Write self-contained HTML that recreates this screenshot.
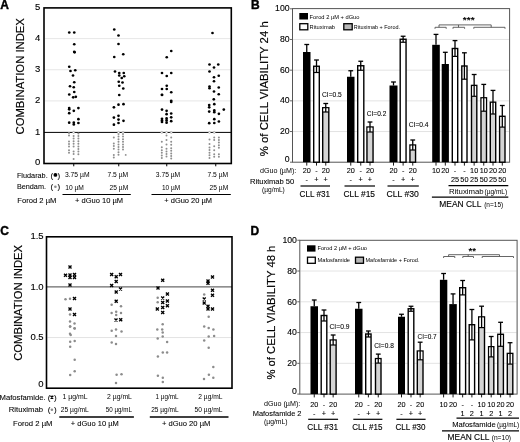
<!DOCTYPE html>
<html><head><meta charset="utf-8"><style>
html,body{margin:0;padding:0;background:#fff;width:520px;height:442px;overflow:hidden}
svg{display:block;font-family:"Liberation Sans", sans-serif;filter:blur(0.35px)}
text{stroke:#000}
</style></head><body>
<svg width="520" height="442" viewBox="0 0 520 442">
<rect width="520" height="442" fill="#fff"/>
<text x="0.30" y="8.80" font-size="12" font-weight="bold" fill="#000" stroke-width="0.4">A</text>
<text x="251.00" y="8.80" font-size="12" font-weight="bold" fill="#000" stroke-width="0.4">B</text>
<text x="0.30" y="234.90" font-size="12" font-weight="bold" fill="#000" stroke-width="0.4">C</text>
<text x="250.60" y="234.80" font-size="12" font-weight="bold" fill="#000" stroke-width="0.4">D</text>
<line x1="45.00" y1="100.90" x2="230.50" y2="100.90" stroke="#e0e0e0" stroke-width="0.8"/>
<line x1="45.00" y1="69.75" x2="230.50" y2="69.75" stroke="#e0e0e0" stroke-width="0.8"/>
<line x1="45.00" y1="38.60" x2="230.50" y2="38.60" stroke="#e0e0e0" stroke-width="0.8"/>
<line x1="44.00" y1="132.40" x2="231.30" y2="132.40" stroke="#000" stroke-width="1.0"/>
<rect x="44.00" y="7.90" width="187.30" height="155.60" fill="none" stroke="#000" stroke-width="1.6"/>
<line x1="73.75" y1="163.50" x2="73.75" y2="166.30" stroke="#000" stroke-width="1"/>
<line x1="118.75" y1="163.50" x2="118.75" y2="166.30" stroke="#000" stroke-width="1"/>
<line x1="166.75" y1="163.50" x2="166.75" y2="166.30" stroke="#000" stroke-width="1"/>
<line x1="215.75" y1="163.50" x2="215.75" y2="166.30" stroke="#000" stroke-width="1"/>
<text x="40.30" y="165.20" font-size="9.5" fill="#000" stroke-width="0.12" text-anchor="end">0</text>
<text x="40.30" y="134.55" font-size="9.5" fill="#000" stroke-width="0.12" text-anchor="end">1</text>
<text x="40.30" y="103.40" font-size="9.5" fill="#000" stroke-width="0.12" text-anchor="end">2</text>
<text x="40.30" y="72.25" font-size="9.5" fill="#000" stroke-width="0.12" text-anchor="end">3</text>
<text x="40.30" y="41.10" font-size="9.5" fill="#000" stroke-width="0.12" text-anchor="end">4</text>
<text x="40.30" y="9.95" font-size="9.5" fill="#000" stroke-width="0.12" text-anchor="end">5</text>
<text transform="translate(24.10,134.50) rotate(-90)" x="0" y="0" font-size="11.2" fill="#000" stroke-width="0.15" textLength="116.40" lengthAdjust="spacingAndGlyphs">COMBINATION INDEX</text>
<circle cx="69.25" cy="32.50" r="1.35" fill="#000"/>
<circle cx="74.25" cy="32.50" r="1.35" fill="#000"/>
<circle cx="74.25" cy="44.25" r="1.35" fill="#000"/>
<circle cx="74.25" cy="51.75" r="1.35" fill="#000"/>
<circle cx="74.60" cy="52.30" r="1.35" fill="#000"/>
<circle cx="69.25" cy="66.75" r="1.35" fill="#000"/>
<circle cx="70.50" cy="71.00" r="1.35" fill="#000"/>
<circle cx="75.25" cy="70.25" r="1.35" fill="#000"/>
<circle cx="73.00" cy="75.50" r="1.35" fill="#000"/>
<circle cx="74.25" cy="82.25" r="1.35" fill="#000"/>
<circle cx="70.00" cy="86.25" r="1.35" fill="#000"/>
<circle cx="73.75" cy="87.25" r="1.35" fill="#000"/>
<circle cx="74.25" cy="92.00" r="1.35" fill="#000"/>
<circle cx="69.25" cy="94.50" r="1.35" fill="#000"/>
<circle cx="73.20" cy="97.30" r="1.35" fill="#000"/>
<circle cx="75.80" cy="96.80" r="1.35" fill="#000"/>
<circle cx="69.20" cy="108.10" r="1.35" fill="#000"/>
<circle cx="69.20" cy="109.30" r="1.35" fill="#000"/>
<circle cx="78.40" cy="108.10" r="1.35" fill="#000"/>
<circle cx="73.80" cy="110.80" r="1.35" fill="#000"/>
<circle cx="69.20" cy="113.20" r="1.35" fill="#000"/>
<circle cx="78.40" cy="119.20" r="1.35" fill="#000"/>
<circle cx="69.20" cy="122.70" r="1.35" fill="#000"/>
<circle cx="73.80" cy="122.70" r="1.35" fill="#000"/>
<circle cx="73.80" cy="124.50" r="1.35" fill="#000"/>
<circle cx="78.40" cy="123.00" r="1.35" fill="#000"/>
<circle cx="114.25" cy="29.50" r="1.35" fill="#000"/>
<circle cx="118.50" cy="35.50" r="1.35" fill="#000"/>
<circle cx="118.50" cy="44.00" r="1.35" fill="#000"/>
<circle cx="114.25" cy="57.00" r="1.35" fill="#000"/>
<circle cx="123.25" cy="54.25" r="1.35" fill="#000"/>
<circle cx="115.00" cy="71.50" r="1.35" fill="#000"/>
<circle cx="119.25" cy="73.00" r="1.35" fill="#000"/>
<circle cx="123.75" cy="73.00" r="1.35" fill="#000"/>
<circle cx="119.25" cy="75.50" r="1.35" fill="#000"/>
<circle cx="121.75" cy="78.00" r="1.35" fill="#000"/>
<circle cx="124.25" cy="76.25" r="1.35" fill="#000"/>
<circle cx="118.75" cy="81.75" r="1.35" fill="#000"/>
<circle cx="122.50" cy="82.50" r="1.35" fill="#000"/>
<circle cx="119.25" cy="85.75" r="1.35" fill="#000"/>
<circle cx="123.25" cy="88.50" r="1.35" fill="#000"/>
<circle cx="119.25" cy="95.00" r="1.35" fill="#000"/>
<circle cx="113.90" cy="107.30" r="1.35" fill="#000"/>
<circle cx="118.50" cy="104.70" r="1.35" fill="#000"/>
<circle cx="123.50" cy="104.20" r="1.35" fill="#000"/>
<circle cx="113.90" cy="117.60" r="1.35" fill="#000"/>
<circle cx="118.50" cy="115.80" r="1.35" fill="#000"/>
<circle cx="118.50" cy="119.60" r="1.35" fill="#000"/>
<circle cx="123.50" cy="120.80" r="1.35" fill="#000"/>
<circle cx="113.90" cy="124.70" r="1.35" fill="#000"/>
<circle cx="118.50" cy="123.00" r="1.35" fill="#000"/>
<circle cx="171.25" cy="51.00" r="1.35" fill="#000"/>
<circle cx="166.75" cy="57.25" r="1.35" fill="#000"/>
<circle cx="162.00" cy="73.00" r="1.35" fill="#000"/>
<circle cx="171.25" cy="73.00" r="1.35" fill="#000"/>
<circle cx="166.75" cy="76.00" r="1.35" fill="#000"/>
<circle cx="166.75" cy="85.75" r="1.35" fill="#000"/>
<circle cx="162.00" cy="89.00" r="1.35" fill="#000"/>
<circle cx="166.75" cy="89.00" r="1.35" fill="#000"/>
<circle cx="171.25" cy="92.25" r="1.35" fill="#000"/>
<circle cx="162.00" cy="94.75" r="1.35" fill="#000"/>
<circle cx="162.00" cy="95.00" r="1.35" fill="#000"/>
<circle cx="171.20" cy="100.80" r="1.35" fill="#000"/>
<circle cx="171.20" cy="101.90" r="1.35" fill="#000"/>
<circle cx="162.00" cy="109.60" r="1.35" fill="#000"/>
<circle cx="166.60" cy="110.80" r="1.35" fill="#000"/>
<circle cx="171.20" cy="113.50" r="1.35" fill="#000"/>
<circle cx="166.60" cy="114.20" r="1.35" fill="#000"/>
<circle cx="162.00" cy="118.80" r="1.35" fill="#000"/>
<circle cx="162.00" cy="120.40" r="1.35" fill="#000"/>
<circle cx="162.00" cy="121.90" r="1.35" fill="#000"/>
<circle cx="166.60" cy="118.40" r="1.35" fill="#000"/>
<circle cx="166.60" cy="120.40" r="1.35" fill="#000"/>
<circle cx="166.60" cy="122.70" r="1.35" fill="#000"/>
<circle cx="171.20" cy="117.30" r="1.35" fill="#000"/>
<circle cx="171.20" cy="121.20" r="1.35" fill="#000"/>
<circle cx="212.50" cy="33.00" r="1.35" fill="#000"/>
<circle cx="209.50" cy="64.50" r="1.35" fill="#000"/>
<circle cx="218.25" cy="64.50" r="1.35" fill="#000"/>
<circle cx="214.00" cy="67.50" r="1.35" fill="#000"/>
<circle cx="209.50" cy="71.50" r="1.35" fill="#000"/>
<circle cx="218.75" cy="75.75" r="1.35" fill="#000"/>
<circle cx="214.00" cy="77.25" r="1.35" fill="#000"/>
<circle cx="214.00" cy="81.25" r="1.35" fill="#000"/>
<circle cx="209.50" cy="86.50" r="1.35" fill="#000"/>
<circle cx="209.50" cy="88.25" r="1.35" fill="#000"/>
<circle cx="218.75" cy="87.50" r="1.35" fill="#000"/>
<circle cx="214.00" cy="91.50" r="1.35" fill="#000"/>
<circle cx="218.75" cy="94.25" r="1.35" fill="#000"/>
<circle cx="213.80" cy="99.30" r="1.35" fill="#000"/>
<circle cx="209.20" cy="105.00" r="1.35" fill="#000"/>
<circle cx="209.20" cy="107.30" r="1.35" fill="#000"/>
<circle cx="214.30" cy="104.20" r="1.35" fill="#000"/>
<circle cx="209.20" cy="111.60" r="1.35" fill="#000"/>
<circle cx="214.30" cy="110.40" r="1.35" fill="#000"/>
<circle cx="214.30" cy="112.20" r="1.35" fill="#000"/>
<circle cx="218.90" cy="113.80" r="1.35" fill="#000"/>
<circle cx="223.80" cy="109.60" r="1.35" fill="#000"/>
<circle cx="214.30" cy="119.20" r="1.35" fill="#000"/>
<circle cx="218.90" cy="121.50" r="1.35" fill="#000"/>
<circle cx="209.20" cy="123.20" r="1.35" fill="#000"/>
<circle cx="214.30" cy="123.00" r="1.35" fill="#000"/>
<circle cx="69.00" cy="133.00" r="1.0" fill="#8e8e8e"/>
<circle cx="69.00" cy="135.60" r="1.0" fill="#8e8e8e"/>
<circle cx="69.00" cy="141.40" r="1.0" fill="#8e8e8e"/>
<circle cx="69.00" cy="144.00" r="1.0" fill="#8e8e8e"/>
<circle cx="69.00" cy="146.60" r="1.0" fill="#8e8e8e"/>
<circle cx="69.00" cy="150.20" r="1.0" fill="#8e8e8e"/>
<circle cx="69.00" cy="152.80" r="1.0" fill="#8e8e8e"/>
<circle cx="73.60" cy="136.00" r="1.0" fill="#8e8e8e"/>
<circle cx="73.60" cy="138.60" r="1.0" fill="#8e8e8e"/>
<circle cx="73.60" cy="141.20" r="1.0" fill="#8e8e8e"/>
<circle cx="73.60" cy="143.80" r="1.0" fill="#8e8e8e"/>
<circle cx="73.60" cy="146.40" r="1.0" fill="#8e8e8e"/>
<circle cx="73.60" cy="151.50" r="1.0" fill="#8e8e8e"/>
<circle cx="73.60" cy="154.10" r="1.0" fill="#8e8e8e"/>
<circle cx="73.60" cy="159.00" r="1.0" fill="#8e8e8e"/>
<circle cx="78.40" cy="133.40" r="1.0" fill="#8e8e8e"/>
<circle cx="78.40" cy="136.00" r="1.0" fill="#8e8e8e"/>
<circle cx="78.40" cy="138.60" r="1.0" fill="#8e8e8e"/>
<circle cx="78.40" cy="141.20" r="1.0" fill="#8e8e8e"/>
<circle cx="78.40" cy="143.80" r="1.0" fill="#8e8e8e"/>
<circle cx="78.40" cy="146.40" r="1.0" fill="#8e8e8e"/>
<circle cx="78.40" cy="149.00" r="1.0" fill="#8e8e8e"/>
<circle cx="78.40" cy="151.60" r="1.0" fill="#8e8e8e"/>
<circle cx="78.40" cy="154.20" r="1.0" fill="#8e8e8e"/>
<circle cx="113.80" cy="137.40" r="1.0" fill="#8e8e8e"/>
<circle cx="113.80" cy="143.50" r="1.0" fill="#8e8e8e"/>
<circle cx="113.80" cy="146.10" r="1.0" fill="#8e8e8e"/>
<circle cx="113.80" cy="148.70" r="1.0" fill="#8e8e8e"/>
<circle cx="113.80" cy="154.90" r="1.0" fill="#8e8e8e"/>
<circle cx="113.80" cy="157.50" r="1.0" fill="#8e8e8e"/>
<circle cx="118.50" cy="134.00" r="1.0" fill="#8e8e8e"/>
<circle cx="118.50" cy="136.60" r="1.0" fill="#8e8e8e"/>
<circle cx="118.50" cy="139.20" r="1.0" fill="#8e8e8e"/>
<circle cx="118.50" cy="141.80" r="1.0" fill="#8e8e8e"/>
<circle cx="118.50" cy="144.40" r="1.0" fill="#8e8e8e"/>
<circle cx="118.50" cy="147.00" r="1.0" fill="#8e8e8e"/>
<circle cx="118.50" cy="149.60" r="1.0" fill="#8e8e8e"/>
<circle cx="118.50" cy="152.20" r="1.0" fill="#8e8e8e"/>
<circle cx="118.50" cy="154.80" r="1.0" fill="#8e8e8e"/>
<circle cx="123.00" cy="134.00" r="1.0" fill="#8e8e8e"/>
<circle cx="123.00" cy="136.60" r="1.0" fill="#8e8e8e"/>
<circle cx="123.00" cy="139.20" r="1.0" fill="#8e8e8e"/>
<circle cx="123.00" cy="141.80" r="1.0" fill="#8e8e8e"/>
<circle cx="123.00" cy="144.40" r="1.0" fill="#8e8e8e"/>
<circle cx="123.00" cy="147.00" r="1.0" fill="#8e8e8e"/>
<circle cx="123.00" cy="149.60" r="1.0" fill="#8e8e8e"/>
<circle cx="125.70" cy="154.90" r="0.95" fill="#8e8e8e"/>
<circle cx="161.80" cy="141.80" r="1.0" fill="#8e8e8e"/>
<circle cx="161.80" cy="147.20" r="1.0" fill="#8e8e8e"/>
<circle cx="161.80" cy="150.20" r="1.0" fill="#8e8e8e"/>
<circle cx="161.80" cy="152.80" r="1.0" fill="#8e8e8e"/>
<circle cx="161.80" cy="155.40" r="1.0" fill="#8e8e8e"/>
<circle cx="161.80" cy="158.00" r="1.0" fill="#8e8e8e"/>
<circle cx="166.50" cy="135.40" r="1.0" fill="#8e8e8e"/>
<circle cx="166.50" cy="140.10" r="1.0" fill="#8e8e8e"/>
<circle cx="166.50" cy="144.50" r="1.0" fill="#8e8e8e"/>
<circle cx="166.50" cy="148.80" r="1.0" fill="#8e8e8e"/>
<circle cx="166.50" cy="151.40" r="1.0" fill="#8e8e8e"/>
<circle cx="166.50" cy="154.00" r="1.0" fill="#8e8e8e"/>
<circle cx="166.50" cy="156.60" r="1.0" fill="#8e8e8e"/>
<circle cx="171.20" cy="137.40" r="1.0" fill="#8e8e8e"/>
<circle cx="171.20" cy="141.80" r="1.0" fill="#8e8e8e"/>
<circle cx="171.20" cy="144.80" r="1.0" fill="#8e8e8e"/>
<circle cx="171.20" cy="148.20" r="1.0" fill="#8e8e8e"/>
<circle cx="171.20" cy="150.80" r="1.0" fill="#8e8e8e"/>
<circle cx="171.20" cy="153.40" r="1.0" fill="#8e8e8e"/>
<circle cx="171.20" cy="156.00" r="1.0" fill="#8e8e8e"/>
<circle cx="171.20" cy="158.60" r="1.0" fill="#8e8e8e"/>
<circle cx="209.50" cy="139.40" r="1.0" fill="#8e8e8e"/>
<circle cx="209.50" cy="144.10" r="1.0" fill="#8e8e8e"/>
<circle cx="209.50" cy="147.50" r="1.0" fill="#8e8e8e"/>
<circle cx="209.50" cy="150.10" r="1.0" fill="#8e8e8e"/>
<circle cx="209.50" cy="152.70" r="1.0" fill="#8e8e8e"/>
<circle cx="209.50" cy="155.30" r="1.0" fill="#8e8e8e"/>
<circle cx="209.50" cy="157.90" r="1.0" fill="#8e8e8e"/>
<circle cx="214.20" cy="137.40" r="1.0" fill="#8e8e8e"/>
<circle cx="214.20" cy="140.00" r="1.0" fill="#8e8e8e"/>
<circle cx="214.20" cy="146.20" r="1.0" fill="#8e8e8e"/>
<circle cx="214.20" cy="150.20" r="1.0" fill="#8e8e8e"/>
<circle cx="214.20" cy="154.20" r="1.0" fill="#8e8e8e"/>
<circle cx="214.20" cy="156.80" r="1.0" fill="#8e8e8e"/>
<circle cx="218.90" cy="137.40" r="1.0" fill="#8e8e8e"/>
<circle cx="218.90" cy="140.00" r="1.0" fill="#8e8e8e"/>
<circle cx="218.90" cy="142.60" r="1.0" fill="#8e8e8e"/>
<circle cx="218.90" cy="145.20" r="1.0" fill="#8e8e8e"/>
<circle cx="218.90" cy="147.80" r="1.0" fill="#8e8e8e"/>
<circle cx="218.90" cy="154.20" r="1.0" fill="#8e8e8e"/>
<circle cx="218.90" cy="156.80" r="1.0" fill="#8e8e8e"/>
<circle cx="73.6" cy="132.4" r="1.0" fill="#fff" stroke="#999" stroke-width="0.6"/>
<circle cx="118.5" cy="132.4" r="1.0" fill="#fff" stroke="#999" stroke-width="0.6"/>
<circle cx="123.0" cy="132.4" r="1.0" fill="#fff" stroke="#999" stroke-width="0.6"/>
<circle cx="161.8" cy="132.4" r="1.0" fill="#fff" stroke="#999" stroke-width="0.6"/>
<circle cx="166.5" cy="132.4" r="1.0" fill="#fff" stroke="#999" stroke-width="0.6"/>
<circle cx="171.2" cy="132.4" r="1.0" fill="#fff" stroke="#999" stroke-width="0.6"/>
<circle cx="209.5" cy="132.4" r="1.0" fill="#fff" stroke="#999" stroke-width="0.6"/>
<circle cx="214.2" cy="132.4" r="1.0" fill="#fff" stroke="#999" stroke-width="0.6"/>
<text x="16.90" y="177.50" font-size="8" font-weight="normal" fill="#000" stroke-width="0.08" textLength="30.80" lengthAdjust="spacingAndGlyphs">Fludarab.</text>
<text x="50.60" y="177.50" font-size="8" font-weight="normal" fill="#000" stroke-width="0.08">(</text>
<circle cx="55.40" cy="174.90" r="1.9" fill="#000"/>
<text x="57.60" y="177.50" font-size="8" font-weight="normal" fill="#000" stroke-width="0.08">)</text>
<text x="16.90" y="189.30" font-size="8" font-weight="normal" fill="#000" stroke-width="0.08" textLength="29.10" lengthAdjust="spacingAndGlyphs">Bendam.</text>
<text x="50.60" y="189.30" font-size="8" font-weight="normal" fill="#000" stroke-width="0.08">(</text>
<circle cx="55.40" cy="186.70" r="1.3" fill="#8c8c8c"/>
<text x="57.60" y="189.30" font-size="8" font-weight="normal" fill="#000" stroke-width="0.08">)</text>
<text x="17.30" y="202.80" font-size="8" font-weight="normal" fill="#000" stroke-width="0.08" textLength="39.10" lengthAdjust="spacingAndGlyphs">Forod 2 µM</text>
<text x="65.00" y="177.00" font-size="6.8" font-weight="normal" fill="#000" stroke-width="0.0" textLength="24.50" lengthAdjust="spacingAndGlyphs">3.75 µM</text>
<text x="65.20" y="189.70" font-size="6.8" font-weight="normal" fill="#000" stroke-width="0.0" textLength="18.70" lengthAdjust="spacingAndGlyphs">10 µM</text>
<text x="107.50" y="177.00" font-size="6.8" font-weight="normal" fill="#000" stroke-width="0.0" textLength="20.70" lengthAdjust="spacingAndGlyphs">7.5 µM</text>
<text x="109.50" y="189.70" font-size="6.8" font-weight="normal" fill="#000" stroke-width="0.0" textLength="18.70" lengthAdjust="spacingAndGlyphs">25 µM</text>
<text x="155.80" y="177.00" font-size="6.8" font-weight="normal" fill="#000" stroke-width="0.0" textLength="24.40" lengthAdjust="spacingAndGlyphs">3.75 µM</text>
<text x="162.00" y="189.70" font-size="6.8" font-weight="normal" fill="#000" stroke-width="0.0" textLength="18.20" lengthAdjust="spacingAndGlyphs">10 µM</text>
<text x="207.50" y="177.00" font-size="6.8" font-weight="normal" fill="#000" stroke-width="0.0" textLength="20.70" lengthAdjust="spacingAndGlyphs">7.5 µM</text>
<text x="209.50" y="189.70" font-size="6.8" font-weight="normal" fill="#000" stroke-width="0.0" textLength="18.70" lengthAdjust="spacingAndGlyphs">25 µM</text>
<line x1="62.50" y1="194.50" x2="130.80" y2="194.50" stroke="#000" stroke-width="1.2"/>
<line x1="151.50" y1="194.50" x2="230.80" y2="194.50" stroke="#000" stroke-width="1.2"/>
<text x="75.00" y="203.00" font-size="8" font-weight="normal" fill="#000" stroke-width="0.08" textLength="48.00" lengthAdjust="spacingAndGlyphs">+ dGuo 10 µM</text>
<text x="164.30" y="203.00" font-size="8" font-weight="normal" fill="#000" stroke-width="0.08" textLength="47.70" lengthAdjust="spacingAndGlyphs">+ dGuo 20 µM</text>
<line x1="293.00" y1="131.52" x2="509.00" y2="131.52" stroke="#e0e0e0" stroke-width="0.9"/>
<line x1="293.00" y1="100.84" x2="509.00" y2="100.84" stroke="#e0e0e0" stroke-width="0.9"/>
<line x1="293.00" y1="70.16" x2="509.00" y2="70.16" stroke="#e0e0e0" stroke-width="0.9"/>
<line x1="293.00" y1="39.48" x2="509.00" y2="39.48" stroke="#e0e0e0" stroke-width="0.9"/>
<rect x="292.50" y="8.60" width="217.10" height="153.60" fill="none" stroke="#555" stroke-width="1"/>
<text x="289.60" y="11.30" font-size="8.7" fill="#000" stroke-width="0.12" text-anchor="end">100</text>
<line x1="290.00" y1="8.80" x2="292.50" y2="8.80" stroke="#555" stroke-width="0.9"/>
<text x="289.60" y="41.98" font-size="8.7" fill="#000" stroke-width="0.12" text-anchor="end">80</text>
<line x1="290.00" y1="39.48" x2="292.50" y2="39.48" stroke="#555" stroke-width="0.9"/>
<text x="289.60" y="72.66" font-size="8.7" fill="#000" stroke-width="0.12" text-anchor="end">60</text>
<line x1="290.00" y1="70.16" x2="292.50" y2="70.16" stroke="#555" stroke-width="0.9"/>
<text x="289.60" y="103.34" font-size="8.7" fill="#000" stroke-width="0.12" text-anchor="end">40</text>
<line x1="290.00" y1="100.84" x2="292.50" y2="100.84" stroke="#555" stroke-width="0.9"/>
<text x="289.60" y="134.02" font-size="8.7" fill="#000" stroke-width="0.12" text-anchor="end">20</text>
<line x1="290.00" y1="131.52" x2="292.50" y2="131.52" stroke="#555" stroke-width="0.9"/>
<text x="289.60" y="162.30" font-size="8.7" fill="#000" stroke-width="0.12" text-anchor="end">0</text>
<line x1="290.00" y1="162.20" x2="292.50" y2="162.20" stroke="#555" stroke-width="0.9"/>
<text transform="translate(268.00,156.20) rotate(-90)" x="0" y="0" font-size="10.3" fill="#000" stroke-width="0.15" textLength="134.90" lengthAdjust="spacingAndGlyphs">% of CELL VIABILITY 24 h</text>
<rect x="303.00" y="52.00" width="7.50" height="110.20" fill="#000" stroke="none" stroke-width="1"/>
<line x1="306.75" y1="44.50" x2="306.75" y2="52.00" stroke="#000" stroke-width="1.3"/>
<line x1="304.35" y1="44.50" x2="309.15" y2="44.50" stroke="#000" stroke-width="1.3"/>
<rect x="313.70" y="66.25" width="5.60" height="95.95" fill="#fff" stroke="#000" stroke-width="1.4"/>
<line x1="316.50" y1="60.00" x2="316.50" y2="72.50" stroke="#000" stroke-width="1.3"/>
<line x1="314.10" y1="60.00" x2="318.90" y2="60.00" stroke="#000" stroke-width="1.3"/>
<line x1="313.70" y1="72.50" x2="319.30" y2="72.50" stroke="#000" stroke-width="1.2"/>
<rect x="322.70" y="107.75" width="6.10" height="54.45" fill="#d4d4d4" stroke="#000" stroke-width="1.4"/>
<rect x="323.40" y="108.45" width="4.70" height="3.55" fill="#fff" stroke="none" stroke-width="1"/>
<line x1="325.75" y1="103.50" x2="325.75" y2="112.00" stroke="#000" stroke-width="1.3"/>
<line x1="323.35" y1="103.50" x2="328.15" y2="103.50" stroke="#000" stroke-width="1.3"/>
<line x1="322.70" y1="112.00" x2="328.80" y2="112.00" stroke="#000" stroke-width="1.2"/>
<rect x="347.00" y="76.75" width="7.50" height="85.45" fill="#000" stroke="none" stroke-width="1"/>
<line x1="350.75" y1="70.75" x2="350.75" y2="76.75" stroke="#000" stroke-width="1.3"/>
<line x1="348.35" y1="70.75" x2="353.15" y2="70.75" stroke="#000" stroke-width="1.3"/>
<rect x="357.70" y="65.75" width="6.10" height="96.45" fill="#fff" stroke="#000" stroke-width="1.4"/>
<line x1="360.75" y1="61.25" x2="360.75" y2="70.25" stroke="#000" stroke-width="1.3"/>
<line x1="358.35" y1="61.25" x2="363.15" y2="61.25" stroke="#000" stroke-width="1.3"/>
<line x1="357.70" y1="70.25" x2="363.80" y2="70.25" stroke="#000" stroke-width="1.2"/>
<rect x="366.95" y="127.00" width="6.10" height="35.20" fill="#d4d4d4" stroke="#000" stroke-width="1.4"/>
<rect x="367.65" y="127.70" width="4.70" height="4.30" fill="#fff" stroke="none" stroke-width="1"/>
<line x1="370.00" y1="122.00" x2="370.00" y2="132.00" stroke="#000" stroke-width="1.3"/>
<line x1="367.60" y1="122.00" x2="372.40" y2="122.00" stroke="#000" stroke-width="1.3"/>
<line x1="366.95" y1="132.00" x2="373.05" y2="132.00" stroke="#000" stroke-width="1.2"/>
<rect x="389.50" y="85.50" width="8.00" height="76.70" fill="#000" stroke="none" stroke-width="1"/>
<line x1="393.50" y1="82.00" x2="393.50" y2="85.50" stroke="#000" stroke-width="1.3"/>
<line x1="391.10" y1="82.00" x2="395.90" y2="82.00" stroke="#000" stroke-width="1.3"/>
<rect x="400.20" y="39.25" width="5.85" height="122.95" fill="#fff" stroke="#000" stroke-width="1.4"/>
<line x1="403.12" y1="36.25" x2="403.12" y2="42.25" stroke="#000" stroke-width="1.3"/>
<line x1="400.73" y1="36.25" x2="405.52" y2="36.25" stroke="#000" stroke-width="1.3"/>
<line x1="400.20" y1="42.25" x2="406.05" y2="42.25" stroke="#000" stroke-width="1.2"/>
<rect x="409.95" y="145.00" width="5.60" height="17.20" fill="#d4d4d4" stroke="#000" stroke-width="1.4"/>
<rect x="410.65" y="145.70" width="4.20" height="4.30" fill="#fff" stroke="none" stroke-width="1"/>
<line x1="412.75" y1="140.00" x2="412.75" y2="150.00" stroke="#000" stroke-width="1.3"/>
<line x1="410.35" y1="140.00" x2="415.15" y2="140.00" stroke="#000" stroke-width="1.3"/>
<line x1="409.95" y1="150.00" x2="415.55" y2="150.00" stroke="#000" stroke-width="1.2"/>
<rect x="432.20" y="44.80" width="7.60" height="117.40" fill="#000" stroke="none" stroke-width="1"/>
<line x1="436.00" y1="34.40" x2="436.00" y2="44.80" stroke="#000" stroke-width="1.3"/>
<line x1="433.60" y1="34.40" x2="438.40" y2="34.40" stroke="#000" stroke-width="1.3"/>
<rect x="441.70" y="64.00" width="7.20" height="98.20" fill="#000" stroke="none" stroke-width="1"/>
<line x1="445.30" y1="52.30" x2="445.30" y2="64.00" stroke="#000" stroke-width="1.3"/>
<line x1="442.90" y1="52.30" x2="447.70" y2="52.30" stroke="#000" stroke-width="1.3"/>
<rect x="452.30" y="48.50" width="5.40" height="113.70" fill="#fff" stroke="#000" stroke-width="1.4"/>
<line x1="455.00" y1="40.60" x2="455.00" y2="56.40" stroke="#000" stroke-width="1.3"/>
<line x1="452.60" y1="40.60" x2="457.40" y2="40.60" stroke="#000" stroke-width="1.3"/>
<line x1="452.30" y1="56.40" x2="457.70" y2="56.40" stroke="#000" stroke-width="1.2"/>
<rect x="461.80" y="66.00" width="5.20" height="96.20" fill="#fff" stroke="#000" stroke-width="1.4"/>
<line x1="464.40" y1="52.80" x2="464.40" y2="79.20" stroke="#000" stroke-width="1.3"/>
<line x1="462.00" y1="52.80" x2="466.80" y2="52.80" stroke="#000" stroke-width="1.3"/>
<line x1="461.80" y1="79.20" x2="467.00" y2="79.20" stroke="#000" stroke-width="1.2"/>
<rect x="471.50" y="85.40" width="5.30" height="76.80" fill="#d4d4d4" stroke="#000" stroke-width="1.4"/>
<rect x="472.20" y="86.10" width="3.90" height="10.20" fill="#fff" stroke="none" stroke-width="1"/>
<line x1="474.15" y1="74.50" x2="474.15" y2="96.30" stroke="#000" stroke-width="1.3"/>
<line x1="471.75" y1="74.50" x2="476.55" y2="74.50" stroke="#000" stroke-width="1.3"/>
<line x1="471.50" y1="96.30" x2="476.80" y2="96.30" stroke="#000" stroke-width="1.2"/>
<rect x="481.00" y="97.80" width="5.50" height="64.40" fill="#d4d4d4" stroke="#000" stroke-width="1.4"/>
<rect x="481.70" y="98.50" width="4.10" height="12.70" fill="#fff" stroke="none" stroke-width="1"/>
<line x1="483.75" y1="84.40" x2="483.75" y2="111.20" stroke="#000" stroke-width="1.3"/>
<line x1="481.35" y1="84.40" x2="486.15" y2="84.40" stroke="#000" stroke-width="1.3"/>
<line x1="481.00" y1="111.20" x2="486.50" y2="111.20" stroke="#000" stroke-width="1.2"/>
<rect x="490.30" y="102.20" width="5.40" height="60.00" fill="#d4d4d4" stroke="#000" stroke-width="1.4"/>
<rect x="491.00" y="102.90" width="4.00" height="11.10" fill="#fff" stroke="none" stroke-width="1"/>
<line x1="493.00" y1="90.40" x2="493.00" y2="114.00" stroke="#000" stroke-width="1.3"/>
<line x1="490.60" y1="90.40" x2="495.40" y2="90.40" stroke="#000" stroke-width="1.3"/>
<line x1="490.30" y1="114.00" x2="495.70" y2="114.00" stroke="#000" stroke-width="1.2"/>
<rect x="499.60" y="116.30" width="5.40" height="45.90" fill="#d4d4d4" stroke="#000" stroke-width="1.4"/>
<rect x="500.30" y="117.00" width="4.00" height="10.10" fill="#fff" stroke="none" stroke-width="1"/>
<line x1="502.30" y1="105.50" x2="502.30" y2="127.10" stroke="#000" stroke-width="1.3"/>
<line x1="499.90" y1="105.50" x2="504.70" y2="105.50" stroke="#000" stroke-width="1.3"/>
<line x1="499.60" y1="127.10" x2="505.00" y2="127.10" stroke="#000" stroke-width="1.2"/>
<line x1="306.75" y1="162.20" x2="306.75" y2="165.60" stroke="#000" stroke-width="0.9"/>
<line x1="316.50" y1="162.20" x2="316.50" y2="165.60" stroke="#000" stroke-width="0.9"/>
<line x1="325.75" y1="162.20" x2="325.75" y2="165.60" stroke="#000" stroke-width="0.9"/>
<line x1="350.75" y1="162.20" x2="350.75" y2="165.60" stroke="#000" stroke-width="0.9"/>
<line x1="360.75" y1="162.20" x2="360.75" y2="165.60" stroke="#000" stroke-width="0.9"/>
<line x1="370.00" y1="162.20" x2="370.00" y2="165.60" stroke="#000" stroke-width="0.9"/>
<line x1="393.50" y1="162.20" x2="393.50" y2="165.60" stroke="#000" stroke-width="0.9"/>
<line x1="403.12" y1="162.20" x2="403.12" y2="165.60" stroke="#000" stroke-width="0.9"/>
<line x1="412.75" y1="162.20" x2="412.75" y2="165.60" stroke="#000" stroke-width="0.9"/>
<line x1="436.00" y1="162.20" x2="436.00" y2="165.60" stroke="#000" stroke-width="0.9"/>
<line x1="445.30" y1="162.20" x2="445.30" y2="165.60" stroke="#000" stroke-width="0.9"/>
<line x1="455.00" y1="162.20" x2="455.00" y2="165.60" stroke="#000" stroke-width="0.9"/>
<line x1="464.40" y1="162.20" x2="464.40" y2="165.60" stroke="#000" stroke-width="0.9"/>
<line x1="474.15" y1="162.20" x2="474.15" y2="165.60" stroke="#000" stroke-width="0.9"/>
<line x1="483.75" y1="162.20" x2="483.75" y2="165.60" stroke="#000" stroke-width="0.9"/>
<line x1="493.00" y1="162.20" x2="493.00" y2="165.60" stroke="#000" stroke-width="0.9"/>
<line x1="502.30" y1="162.20" x2="502.30" y2="165.60" stroke="#000" stroke-width="0.9"/>
<rect x="299.30" y="13.00" width="8.70" height="6.50" fill="#000" stroke="none" stroke-width="1"/>
<text x="309.60" y="19.00" font-size="6.1" font-weight="normal" fill="#000" stroke-width="0.0" textLength="49.90" lengthAdjust="spacingAndGlyphs">Forod 2 µM + dGuo</text>
<rect x="299.80" y="23.70" width="8.00" height="6.10" fill="#fff" stroke="#000" stroke-width="1.3"/>
<text x="309.60" y="28.80" font-size="6.1" font-weight="normal" fill="#000" stroke-width="0.0" textLength="25.40" lengthAdjust="spacingAndGlyphs">Rituximab</text>
<rect x="343.80" y="23.70" width="8.40" height="6.10" fill="#b8b8b8" stroke="#000" stroke-width="1.3"/>
<text x="353.80" y="28.80" font-size="6.1" font-weight="normal" fill="#000" stroke-width="0.0" textLength="46.20" lengthAdjust="spacingAndGlyphs">Rituximab + Forod.</text>
<text x="322.00" y="97.20" font-size="7.6" font-weight="normal" fill="#000" stroke-width="0.08" textLength="19.80" lengthAdjust="spacingAndGlyphs">CI=0.5</text>
<text x="366.80" y="115.80" font-size="7.6" font-weight="normal" fill="#000" stroke-width="0.08" textLength="19.50" lengthAdjust="spacingAndGlyphs">CI=0.2</text>
<text x="408.70" y="127.20" font-size="7.6" font-weight="normal" fill="#000" stroke-width="0.08" textLength="19.90" lengthAdjust="spacingAndGlyphs">CI=0.4</text>
<text x="462.80" y="22.60" font-size="9" font-weight="bold" fill="#000" stroke-width="0" textLength="11.80" lengthAdjust="spacingAndGlyphs">***</text>
<line x1="439.00" y1="24.90" x2="491.20" y2="24.90" stroke="#555" stroke-width="0.9"/>
<line x1="435.00" y1="27.30" x2="446.20" y2="27.30" stroke="#555" stroke-width="0.9"/>
<line x1="435.00" y1="27.30" x2="435.00" y2="28.80" stroke="#555" stroke-width="0.9"/>
<line x1="446.20" y1="27.30" x2="446.20" y2="28.80" stroke="#555" stroke-width="0.9"/>
<line x1="453.00" y1="27.30" x2="464.60" y2="27.30" stroke="#555" stroke-width="0.9"/>
<line x1="453.00" y1="27.30" x2="453.00" y2="28.80" stroke="#555" stroke-width="0.9"/>
<line x1="464.60" y1="27.30" x2="464.60" y2="28.80" stroke="#555" stroke-width="0.9"/>
<line x1="473.80" y1="27.30" x2="505.00" y2="27.30" stroke="#555" stroke-width="0.9"/>
<line x1="473.80" y1="27.30" x2="473.80" y2="28.80" stroke="#555" stroke-width="0.9"/>
<line x1="505.00" y1="27.30" x2="505.00" y2="28.80" stroke="#555" stroke-width="0.9"/>
<line x1="439.00" y1="24.90" x2="439.00" y2="27.30" stroke="#555" stroke-width="0.9"/>
<line x1="458.50" y1="24.90" x2="458.50" y2="27.30" stroke="#555" stroke-width="0.9"/>
<line x1="491.20" y1="24.90" x2="491.20" y2="27.30" stroke="#555" stroke-width="0.9"/>
<text x="260.00" y="173.30" font-size="7.0" font-weight="normal" fill="#000" stroke-width="0.0" textLength="36.30" lengthAdjust="spacingAndGlyphs">dGuo (µM):</text>
<text x="250.00" y="183.60" font-size="7.2" font-weight="normal" fill="#000" stroke-width="0.08" textLength="44.30" lengthAdjust="spacingAndGlyphs">Rituximab 50</text>
<text x="262.00" y="192.20" font-size="6.3" font-weight="normal" fill="#000" stroke-width="0.0" textLength="22.80" lengthAdjust="spacingAndGlyphs">(µg/mL)</text>
<text x="306.75" y="173.30" font-size="7.3" fill="#000" stroke-width="0.08" text-anchor="middle">20</text>
<text x="316.50" y="173.30" font-size="7.3" fill="#000" stroke-width="0.08" text-anchor="middle">-</text>
<text x="325.75" y="173.30" font-size="7.3" fill="#000" stroke-width="0.08" text-anchor="middle">20</text>
<text x="306.75" y="182.40" font-size="7.3" fill="#000" stroke-width="0.08" text-anchor="middle">-</text>
<text x="316.50" y="182.40" font-size="7.3" fill="#000" stroke-width="0.08" text-anchor="middle">+</text>
<text x="325.75" y="182.40" font-size="7.3" fill="#000" stroke-width="0.08" text-anchor="middle">+</text>
<text x="350.75" y="173.30" font-size="7.3" fill="#000" stroke-width="0.08" text-anchor="middle">20</text>
<text x="360.75" y="173.30" font-size="7.3" fill="#000" stroke-width="0.08" text-anchor="middle">-</text>
<text x="370.00" y="173.30" font-size="7.3" fill="#000" stroke-width="0.08" text-anchor="middle">20</text>
<text x="350.75" y="182.40" font-size="7.3" fill="#000" stroke-width="0.08" text-anchor="middle">-</text>
<text x="360.75" y="182.40" font-size="7.3" fill="#000" stroke-width="0.08" text-anchor="middle">+</text>
<text x="370.00" y="182.40" font-size="7.3" fill="#000" stroke-width="0.08" text-anchor="middle">+</text>
<text x="393.50" y="173.30" font-size="7.3" fill="#000" stroke-width="0.08" text-anchor="middle">20</text>
<text x="403.10" y="173.30" font-size="7.3" fill="#000" stroke-width="0.08" text-anchor="middle">-</text>
<text x="412.75" y="173.30" font-size="7.3" fill="#000" stroke-width="0.08" text-anchor="middle">20</text>
<text x="393.50" y="182.40" font-size="7.3" fill="#000" stroke-width="0.08" text-anchor="middle">-</text>
<text x="403.10" y="182.40" font-size="7.3" fill="#000" stroke-width="0.08" text-anchor="middle">+</text>
<text x="412.75" y="182.40" font-size="7.3" fill="#000" stroke-width="0.08" text-anchor="middle">+</text>
<line x1="300.50" y1="186.00" x2="330.00" y2="186.00" stroke="#000" stroke-width="1.2"/>
<text x="299.50" y="197.40" font-size="8.6" font-weight="normal" fill="#000" stroke-width="0.12" textLength="30.50" lengthAdjust="spacingAndGlyphs">CLL #31</text>
<line x1="344.50" y1="186.00" x2="375.00" y2="186.00" stroke="#000" stroke-width="1.2"/>
<text x="343.50" y="197.40" font-size="8.6" font-weight="normal" fill="#000" stroke-width="0.12" textLength="31.50" lengthAdjust="spacingAndGlyphs">CLL #15</text>
<line x1="387.50" y1="186.00" x2="418.80" y2="186.00" stroke="#000" stroke-width="1.2"/>
<text x="386.50" y="197.40" font-size="8.6" font-weight="normal" fill="#000" stroke-width="0.12" textLength="32.30" lengthAdjust="spacingAndGlyphs">CLL #30</text>
<text x="436.00" y="173.30" font-size="7.3" fill="#000" stroke-width="0.08" text-anchor="middle">10</text>
<text x="445.30" y="173.30" font-size="7.3" fill="#000" stroke-width="0.08" text-anchor="middle">20</text>
<text x="455.00" y="173.30" font-size="7.3" fill="#000" stroke-width="0.08" text-anchor="middle">-</text>
<text x="464.40" y="173.30" font-size="7.3" fill="#000" stroke-width="0.08" text-anchor="middle">-</text>
<text x="474.15" y="173.30" font-size="7.3" fill="#000" stroke-width="0.08" text-anchor="middle">10</text>
<text x="483.75" y="173.30" font-size="7.3" fill="#000" stroke-width="0.08" text-anchor="middle">10</text>
<text x="493.00" y="173.30" font-size="7.3" fill="#000" stroke-width="0.08" text-anchor="middle">20</text>
<text x="502.30" y="173.30" font-size="7.3" fill="#000" stroke-width="0.08" text-anchor="middle">20</text>
<text x="455.00" y="182.40" font-size="7.3" fill="#000" stroke-width="0.08" text-anchor="middle">25</text>
<text x="464.40" y="182.40" font-size="7.3" fill="#000" stroke-width="0.08" text-anchor="middle">50</text>
<text x="474.15" y="182.40" font-size="7.3" fill="#000" stroke-width="0.08" text-anchor="middle">25</text>
<text x="483.75" y="182.40" font-size="7.3" fill="#000" stroke-width="0.08" text-anchor="middle">50</text>
<text x="493.00" y="182.40" font-size="7.3" fill="#000" stroke-width="0.08" text-anchor="middle">25</text>
<text x="502.30" y="182.40" font-size="7.3" fill="#000" stroke-width="0.08" text-anchor="middle">50</text>
<line x1="448.50" y1="185.60" x2="508.30" y2="185.60" stroke="#000" stroke-width="1.2"/>
<text x="449.00" y="193.70" font-size="7.0" font-weight="normal" fill="#000" stroke-width="0.0" textLength="34.70" lengthAdjust="spacingAndGlyphs">Rituximab</text>
<text x="484.50" y="193.70" font-size="6.3" font-weight="normal" fill="#000" stroke-width="0.0" textLength="22.70" lengthAdjust="spacingAndGlyphs">(µg/mL)</text>
<line x1="431.90" y1="197.20" x2="508.30" y2="197.20" stroke="#000" stroke-width="1.2"/>
<text x="439.30" y="207.30" font-size="8.6" font-weight="normal" fill="#000" stroke-width="0.12" textLength="42.20" lengthAdjust="spacingAndGlyphs">MEAN CLL</text>
<text x="484.20" y="207.00" font-size="6.3" font-weight="normal" fill="#000" stroke-width="0.0" textLength="19.10" lengthAdjust="spacingAndGlyphs">(n=15)</text>
<line x1="47.50" y1="337.55" x2="231.00" y2="337.55" stroke="#e0e0e0" stroke-width="0.9"/>
<line x1="46.50" y1="286.90" x2="232.00" y2="286.90" stroke="#6a6a6a" stroke-width="1.4"/>
<rect x="46.50" y="236.80" width="185.50" height="151.40" fill="none" stroke="#000" stroke-width="1.6"/>
<text x="43.60" y="239.05" font-size="9.5" fill="#000" stroke-width="0.12" text-anchor="end">1.5</text>
<text x="43.60" y="289.70" font-size="9.5" fill="#000" stroke-width="0.12" text-anchor="end">1.0</text>
<text x="43.60" y="340.35" font-size="9.5" fill="#000" stroke-width="0.12" text-anchor="end">0.5</text>
<text x="43.60" y="387.40" font-size="9.5" fill="#000" stroke-width="0.12" text-anchor="end">0</text>
<text transform="translate(22.00,360.80) rotate(-90)" x="0" y="0" font-size="11.2" fill="#000" stroke-width="0.15" textLength="115.80" lengthAdjust="spacingAndGlyphs">COMBINATION INDEX</text>
<path d="M68.50 265.60L71.50 268.60M71.50 265.60L68.50 268.60" stroke="#000" stroke-width="1.35" fill="none"/>
<path d="M64.00 273.80L67.00 276.80M67.00 273.80L64.00 276.80" stroke="#000" stroke-width="1.35" fill="none"/>
<path d="M68.50 273.40L71.50 276.40M71.50 273.40L68.50 276.40" stroke="#000" stroke-width="1.35" fill="none"/>
<path d="M73.00 272.90L76.00 275.90M76.00 272.90L73.00 275.90" stroke="#000" stroke-width="1.35" fill="none"/>
<path d="M68.50 276.10L71.50 279.10M71.50 276.10L68.50 279.10" stroke="#000" stroke-width="1.35" fill="none"/>
<path d="M73.00 275.90L76.00 278.90M76.00 275.90L73.00 278.90" stroke="#000" stroke-width="1.35" fill="none"/>
<path d="M68.50 283.40L71.50 286.40M71.50 283.40L68.50 286.40" stroke="#000" stroke-width="1.35" fill="none"/>
<path d="M73.00 296.90L76.00 299.90M76.00 296.90L73.00 299.90" stroke="#000" stroke-width="1.35" fill="none"/>
<path d="M68.50 307.40L71.50 310.40M71.50 307.40L68.50 310.40" stroke="#000" stroke-width="1.35" fill="none"/>
<path d="M73.00 312.90L76.00 315.90M76.00 312.90L73.00 315.90" stroke="#000" stroke-width="1.35" fill="none"/>
<path d="M110.15 273.00L113.15 276.00M113.15 273.00L110.15 276.00" stroke="#000" stroke-width="1.35" fill="none"/>
<path d="M114.70 275.20L117.70 278.20M117.70 275.20L114.70 278.20" stroke="#000" stroke-width="1.35" fill="none"/>
<path d="M119.00 273.00L122.00 276.00M122.00 273.00L119.00 276.00" stroke="#000" stroke-width="1.35" fill="none"/>
<path d="M114.70 280.10L117.70 283.10M117.70 280.10L114.70 283.10" stroke="#000" stroke-width="1.35" fill="none"/>
<path d="M110.15 283.90L113.15 286.90M113.15 283.90L110.15 286.90" stroke="#000" stroke-width="1.35" fill="none"/>
<path d="M119.00 287.50L122.00 290.50M122.00 287.50L119.00 290.50" stroke="#000" stroke-width="1.35" fill="none"/>
<path d="M114.70 290.60L117.70 293.60M117.70 290.60L114.70 293.60" stroke="#000" stroke-width="1.35" fill="none"/>
<path d="M114.70 299.70L117.70 302.70M117.70 299.70L114.70 302.70" stroke="#000" stroke-width="1.35" fill="none"/>
<path d="M114.50 318.50L117.50 321.50M117.50 318.50L114.50 321.50" stroke="#000" stroke-width="1.35" fill="none"/>
<path d="M119.20 318.30L122.20 321.30M122.20 318.30L119.20 321.30" stroke="#000" stroke-width="1.35" fill="none"/>
<path d="M161.20 278.80L164.20 281.80M164.20 278.80L161.20 281.80" stroke="#000" stroke-width="1.35" fill="none"/>
<path d="M156.50 286.60L159.50 289.60M159.50 286.60L156.50 289.60" stroke="#000" stroke-width="1.35" fill="none"/>
<path d="M165.90 292.60L168.90 295.60M168.90 292.60L165.90 295.60" stroke="#000" stroke-width="1.35" fill="none"/>
<path d="M161.20 296.50L164.20 299.50M164.20 296.50L161.20 299.50" stroke="#000" stroke-width="1.35" fill="none"/>
<path d="M161.20 301.10L164.20 304.10M164.20 301.10L161.20 304.10" stroke="#000" stroke-width="1.35" fill="none"/>
<path d="M165.90 299.60L168.90 302.60M168.90 299.60L165.90 302.60" stroke="#000" stroke-width="1.35" fill="none"/>
<path d="M161.20 306.00L164.20 309.00M164.20 306.00L161.20 309.00" stroke="#000" stroke-width="1.35" fill="none"/>
<path d="M165.90 304.20L168.90 307.20M168.90 304.20L165.90 307.20" stroke="#000" stroke-width="1.35" fill="none"/>
<path d="M155.80 307.40L158.80 310.40M158.80 307.40L155.80 310.40" stroke="#000" stroke-width="1.35" fill="none"/>
<path d="M161.20 311.00L164.20 314.00M164.20 311.00L161.20 314.00" stroke="#000" stroke-width="1.35" fill="none"/>
<path d="M211.00 275.40L214.00 278.40M214.00 275.40L211.00 278.40" stroke="#000" stroke-width="1.35" fill="none"/>
<path d="M206.50 279.40L209.50 282.40M209.50 279.40L206.50 282.40" stroke="#000" stroke-width="1.35" fill="none"/>
<path d="M206.50 281.70L209.50 284.70M209.50 281.70L206.50 284.70" stroke="#000" stroke-width="1.35" fill="none"/>
<path d="M211.00 288.80L214.00 291.80M214.00 288.80L211.00 291.80" stroke="#000" stroke-width="1.35" fill="none"/>
<path d="M211.00 293.80L214.00 296.80M214.00 293.80L211.00 296.80" stroke="#000" stroke-width="1.35" fill="none"/>
<path d="M202.70 297.50L205.70 300.50M205.70 297.50L202.70 300.50" stroke="#000" stroke-width="1.35" fill="none"/>
<path d="M202.70 301.60L205.70 304.60M205.70 301.60L202.70 304.60" stroke="#000" stroke-width="1.35" fill="none"/>
<path d="M206.50 304.70L209.50 307.70M209.50 304.70L206.50 307.70" stroke="#000" stroke-width="1.35" fill="none"/>
<path d="M206.50 307.40L209.50 310.40M209.50 307.40L206.50 310.40" stroke="#000" stroke-width="1.35" fill="none"/>
<path d="M211.00 307.40L214.00 310.40M214.00 307.40L211.00 310.40" stroke="#000" stroke-width="1.35" fill="none"/>
<circle cx="65.50" cy="299.30" r="1.25" fill="#8c8c8c"/>
<circle cx="70.00" cy="298.80" r="1.25" fill="#8c8c8c"/>
<circle cx="70.00" cy="314.40" r="1.25" fill="#8c8c8c"/>
<circle cx="70.00" cy="321.60" r="1.25" fill="#8c8c8c"/>
<circle cx="74.50" cy="323.40" r="1.25" fill="#8c8c8c"/>
<circle cx="70.00" cy="326.50" r="1.25" fill="#8c8c8c"/>
<circle cx="74.50" cy="328.30" r="1.25" fill="#8c8c8c"/>
<circle cx="70.20" cy="326.40" r="1.25" fill="#8c8c8c"/>
<circle cx="74.70" cy="328.60" r="1.25" fill="#8c8c8c"/>
<circle cx="70.70" cy="335.00" r="1.25" fill="#8c8c8c"/>
<circle cx="70.20" cy="341.70" r="1.25" fill="#8c8c8c"/>
<circle cx="74.70" cy="341.00" r="1.25" fill="#8c8c8c"/>
<circle cx="70.20" cy="346.70" r="1.25" fill="#8c8c8c"/>
<circle cx="74.70" cy="359.80" r="1.25" fill="#8c8c8c"/>
<circle cx="74.70" cy="371.20" r="1.25" fill="#8c8c8c"/>
<circle cx="70.20" cy="375.10" r="1.25" fill="#8c8c8c"/>
<circle cx="70.00" cy="333.70" r="1.25" fill="#8c8c8c"/>
<circle cx="111.65" cy="304.80" r="1.25" fill="#8c8c8c"/>
<circle cx="121.00" cy="306.20" r="1.25" fill="#8c8c8c"/>
<circle cx="111.65" cy="313.00" r="1.25" fill="#8c8c8c"/>
<circle cx="116.20" cy="311.70" r="1.25" fill="#8c8c8c"/>
<circle cx="121.00" cy="313.00" r="1.25" fill="#8c8c8c"/>
<circle cx="116.20" cy="315.00" r="1.25" fill="#8c8c8c"/>
<circle cx="111.70" cy="330.70" r="1.25" fill="#8c8c8c"/>
<circle cx="116.00" cy="329.50" r="1.25" fill="#8c8c8c"/>
<circle cx="121.50" cy="331.50" r="1.25" fill="#8c8c8c"/>
<circle cx="116.00" cy="335.90" r="1.25" fill="#8c8c8c"/>
<circle cx="111.70" cy="342.50" r="1.25" fill="#8c8c8c"/>
<circle cx="116.00" cy="343.90" r="1.25" fill="#8c8c8c"/>
<circle cx="116.60" cy="374.80" r="1.25" fill="#8c8c8c"/>
<circle cx="121.50" cy="374.20" r="1.25" fill="#8c8c8c"/>
<circle cx="116.00" cy="382.90" r="1.25" fill="#8c8c8c"/>
<circle cx="157.70" cy="297.70" r="1.25" fill="#8c8c8c"/>
<circle cx="157.70" cy="302.20" r="1.25" fill="#8c8c8c"/>
<circle cx="162.70" cy="324.30" r="1.25" fill="#8c8c8c"/>
<circle cx="157.30" cy="329.40" r="1.25" fill="#8c8c8c"/>
<circle cx="162.20" cy="329.40" r="1.25" fill="#8c8c8c"/>
<circle cx="162.70" cy="332.40" r="1.25" fill="#8c8c8c"/>
<circle cx="162.70" cy="336.60" r="1.25" fill="#8c8c8c"/>
<circle cx="157.70" cy="338.40" r="1.25" fill="#8c8c8c"/>
<circle cx="167.10" cy="342.00" r="1.25" fill="#8c8c8c"/>
<circle cx="157.90" cy="356.60" r="1.25" fill="#8c8c8c"/>
<circle cx="162.80" cy="352.60" r="1.25" fill="#8c8c8c"/>
<circle cx="167.10" cy="352.60" r="1.25" fill="#8c8c8c"/>
<circle cx="157.90" cy="375.70" r="1.25" fill="#8c8c8c"/>
<circle cx="162.80" cy="377.70" r="1.25" fill="#8c8c8c"/>
<circle cx="162.80" cy="382.00" r="1.25" fill="#8c8c8c"/>
<circle cx="204.20" cy="294.40" r="1.25" fill="#8c8c8c"/>
<circle cx="208.70" cy="316.70" r="1.25" fill="#8c8c8c"/>
<circle cx="204.20" cy="326.50" r="1.25" fill="#8c8c8c"/>
<circle cx="208.70" cy="327.90" r="1.25" fill="#8c8c8c"/>
<circle cx="213.40" cy="329.40" r="1.25" fill="#8c8c8c"/>
<circle cx="208.70" cy="336.60" r="1.25" fill="#8c8c8c"/>
<circle cx="214.10" cy="336.10" r="1.25" fill="#8c8c8c"/>
<circle cx="204.20" cy="340.60" r="1.25" fill="#8c8c8c"/>
<circle cx="208.70" cy="347.80" r="1.25" fill="#8c8c8c"/>
<circle cx="213.30" cy="367.00" r="1.25" fill="#8c8c8c"/>
<circle cx="208.90" cy="374.80" r="1.25" fill="#8c8c8c"/>
<circle cx="204.00" cy="379.10" r="1.25" fill="#8c8c8c"/>
<circle cx="213.30" cy="377.70" r="1.25" fill="#8c8c8c"/>
<text x="-0.50" y="399.50" font-size="8" font-weight="normal" fill="#000" stroke-width="0.08" textLength="46.10" lengthAdjust="spacingAndGlyphs">Mafosfamide.</text>
<text x="47.80" y="399.50" font-size="8" font-weight="normal" fill="#000" stroke-width="0.08">(</text>
<path d="M50.50 395.70L53.30 398.50M53.30 395.70L50.50 398.50" stroke="#000" stroke-width="1.3" fill="none"/>
<text x="54.10" y="399.50" font-size="8" font-weight="normal" fill="#000" stroke-width="0.08">)</text>
<text x="8.80" y="412.30" font-size="8" font-weight="normal" fill="#000" stroke-width="0.08" textLength="34.20" lengthAdjust="spacingAndGlyphs">Rituximab</text>
<text x="47.80" y="412.30" font-size="8" font-weight="normal" fill="#000" stroke-width="0.08">(</text>
<circle cx="51.90" cy="409.70" r="1.3" fill="#8c8c8c"/>
<text x="54.10" y="412.30" font-size="8" font-weight="normal" fill="#000" stroke-width="0.08">)</text>
<text x="13.00" y="426.10" font-size="8" font-weight="normal" fill="#000" stroke-width="0.08" textLength="39.50" lengthAdjust="spacingAndGlyphs">Forod 2 µM</text>
<text x="62.50" y="399.20" font-size="6.6" font-weight="normal" fill="#000" stroke-width="0.0" textLength="25.00" lengthAdjust="spacingAndGlyphs">1 µg/mL</text>
<text x="60.80" y="412.00" font-size="6.6" font-weight="normal" fill="#000" stroke-width="0.0" textLength="28.00" lengthAdjust="spacingAndGlyphs">25 µg/mL</text>
<text x="107.10" y="399.20" font-size="6.6" font-weight="normal" fill="#000" stroke-width="0.0" textLength="24.80" lengthAdjust="spacingAndGlyphs">2 µg/mL</text>
<text x="105.70" y="412.00" font-size="6.6" font-weight="normal" fill="#000" stroke-width="0.0" textLength="26.20" lengthAdjust="spacingAndGlyphs">50 µg/mL</text>
<text x="155.60" y="399.20" font-size="6.6" font-weight="normal" fill="#000" stroke-width="0.0" textLength="23.00" lengthAdjust="spacingAndGlyphs">1 µg/mL</text>
<text x="151.20" y="412.00" font-size="6.6" font-weight="normal" fill="#000" stroke-width="0.0" textLength="27.40" lengthAdjust="spacingAndGlyphs">25 µg/mL</text>
<text x="198.30" y="399.20" font-size="6.6" font-weight="normal" fill="#000" stroke-width="0.0" textLength="24.20" lengthAdjust="spacingAndGlyphs">2 µg/mL</text>
<text x="194.50" y="412.00" font-size="6.6" font-weight="normal" fill="#000" stroke-width="0.0" textLength="28.00" lengthAdjust="spacingAndGlyphs">50 µg/mL</text>
<line x1="59.30" y1="417.00" x2="133.90" y2="417.00" stroke="#000" stroke-width="1.3"/>
<line x1="149.80" y1="417.00" x2="228.50" y2="417.00" stroke="#000" stroke-width="1.3"/>
<text x="70.80" y="425.90" font-size="8" font-weight="normal" fill="#000" stroke-width="0.08" textLength="48.00" lengthAdjust="spacingAndGlyphs">+ dGuo 10 µM</text>
<text x="161.90" y="425.70" font-size="8" font-weight="normal" fill="#000" stroke-width="0.08" textLength="48.50" lengthAdjust="spacingAndGlyphs">+ dGuo 20 µM</text>
<line x1="300.50" y1="363.33" x2="516.50" y2="363.33" stroke="#e0e0e0" stroke-width="0.9"/>
<line x1="300.50" y1="332.56" x2="516.50" y2="332.56" stroke="#e0e0e0" stroke-width="0.9"/>
<line x1="300.50" y1="301.79" x2="516.50" y2="301.79" stroke="#e0e0e0" stroke-width="0.9"/>
<line x1="300.50" y1="271.02" x2="516.50" y2="271.02" stroke="#e0e0e0" stroke-width="0.9"/>
<rect x="299.80" y="240.30" width="217.30" height="153.80" fill="none" stroke="#555" stroke-width="1"/>
<text x="296.90" y="243.05" font-size="8.7" fill="#000" stroke-width="0.12" text-anchor="end">100</text>
<line x1="297.30" y1="240.25" x2="299.80" y2="240.25" stroke="#555" stroke-width="0.9"/>
<text x="296.90" y="273.82" font-size="8.7" fill="#000" stroke-width="0.12" text-anchor="end">80</text>
<line x1="297.30" y1="271.02" x2="299.80" y2="271.02" stroke="#555" stroke-width="0.9"/>
<text x="296.90" y="304.59" font-size="8.7" fill="#000" stroke-width="0.12" text-anchor="end">60</text>
<line x1="297.30" y1="301.79" x2="299.80" y2="301.79" stroke="#555" stroke-width="0.9"/>
<text x="296.90" y="335.36" font-size="8.7" fill="#000" stroke-width="0.12" text-anchor="end">40</text>
<line x1="297.30" y1="332.56" x2="299.80" y2="332.56" stroke="#555" stroke-width="0.9"/>
<text x="296.90" y="366.13" font-size="8.7" fill="#000" stroke-width="0.12" text-anchor="end">20</text>
<line x1="297.30" y1="363.33" x2="299.80" y2="363.33" stroke="#555" stroke-width="0.9"/>
<text x="296.90" y="393.70" font-size="8.7" fill="#000" stroke-width="0.12" text-anchor="end">0</text>
<line x1="297.30" y1="394.10" x2="299.80" y2="394.10" stroke="#555" stroke-width="0.9"/>
<text transform="translate(275.30,379.60) rotate(-90)" x="0" y="0" font-size="10.3" fill="#000" stroke-width="0.15" textLength="133.90" lengthAdjust="spacingAndGlyphs">% of CELL VIABILITY 48 h</text>
<rect x="310.50" y="306.25" width="7.50" height="87.85" fill="#000" stroke="none" stroke-width="1"/>
<line x1="314.25" y1="300.00" x2="314.25" y2="306.25" stroke="#000" stroke-width="1.3"/>
<line x1="311.85" y1="300.00" x2="316.65" y2="300.00" stroke="#000" stroke-width="1.3"/>
<rect x="321.20" y="315.50" width="5.60" height="78.60" fill="#fff" stroke="#000" stroke-width="1.4"/>
<line x1="324.00" y1="310.00" x2="324.00" y2="321.00" stroke="#000" stroke-width="1.3"/>
<line x1="321.60" y1="310.00" x2="326.40" y2="310.00" stroke="#000" stroke-width="1.3"/>
<line x1="321.20" y1="321.00" x2="326.80" y2="321.00" stroke="#000" stroke-width="1.2"/>
<rect x="330.20" y="340.00" width="5.90" height="54.10" fill="#d4d4d4" stroke="#000" stroke-width="1.4"/>
<rect x="330.90" y="340.70" width="4.50" height="4.30" fill="#fff" stroke="none" stroke-width="1"/>
<line x1="333.15" y1="335.00" x2="333.15" y2="345.00" stroke="#000" stroke-width="1.3"/>
<line x1="330.75" y1="335.00" x2="335.55" y2="335.00" stroke="#000" stroke-width="1.3"/>
<line x1="330.20" y1="345.00" x2="336.10" y2="345.00" stroke="#000" stroke-width="1.2"/>
<rect x="355.00" y="308.75" width="7.50" height="85.35" fill="#000" stroke="none" stroke-width="1"/>
<line x1="358.75" y1="302.50" x2="358.75" y2="308.75" stroke="#000" stroke-width="1.3"/>
<line x1="356.35" y1="302.50" x2="361.15" y2="302.50" stroke="#000" stroke-width="1.3"/>
<rect x="365.70" y="334.00" width="5.35" height="60.10" fill="#fff" stroke="#000" stroke-width="1.4"/>
<line x1="368.38" y1="331.00" x2="368.38" y2="337.00" stroke="#000" stroke-width="1.3"/>
<line x1="365.98" y1="331.00" x2="370.77" y2="331.00" stroke="#000" stroke-width="1.3"/>
<line x1="365.70" y1="337.00" x2="371.05" y2="337.00" stroke="#000" stroke-width="1.2"/>
<rect x="375.50" y="358.60" width="5.50" height="35.50" fill="#d4d4d4" stroke="#000" stroke-width="1.4"/>
<rect x="376.20" y="359.30" width="4.10" height="3.80" fill="#fff" stroke="none" stroke-width="1"/>
<line x1="378.25" y1="354.10" x2="378.25" y2="363.10" stroke="#000" stroke-width="1.3"/>
<line x1="375.85" y1="354.10" x2="380.65" y2="354.10" stroke="#000" stroke-width="1.3"/>
<line x1="375.50" y1="363.10" x2="381.00" y2="363.10" stroke="#000" stroke-width="1.2"/>
<rect x="398.00" y="316.75" width="7.00" height="77.35" fill="#000" stroke="none" stroke-width="1"/>
<line x1="401.50" y1="314.25" x2="401.50" y2="316.75" stroke="#000" stroke-width="1.3"/>
<line x1="399.10" y1="314.25" x2="403.90" y2="314.25" stroke="#000" stroke-width="1.3"/>
<rect x="408.20" y="308.75" width="5.60" height="85.35" fill="#fff" stroke="#000" stroke-width="1.4"/>
<line x1="411.00" y1="306.25" x2="411.00" y2="311.25" stroke="#000" stroke-width="1.3"/>
<line x1="408.60" y1="306.25" x2="413.40" y2="306.25" stroke="#000" stroke-width="1.3"/>
<line x1="408.20" y1="311.25" x2="413.80" y2="311.25" stroke="#000" stroke-width="1.2"/>
<rect x="417.30" y="351.00" width="5.70" height="43.10" fill="#d4d4d4" stroke="#000" stroke-width="1.4"/>
<rect x="418.00" y="351.70" width="4.30" height="8.10" fill="#fff" stroke="none" stroke-width="1"/>
<line x1="420.15" y1="342.20" x2="420.15" y2="359.80" stroke="#000" stroke-width="1.3"/>
<line x1="417.75" y1="342.20" x2="422.55" y2="342.20" stroke="#000" stroke-width="1.3"/>
<line x1="417.30" y1="359.80" x2="423.00" y2="359.80" stroke="#000" stroke-width="1.2"/>
<rect x="439.90" y="279.80" width="7.40" height="114.30" fill="#000" stroke="none" stroke-width="1"/>
<line x1="443.60" y1="273.50" x2="443.60" y2="279.80" stroke="#000" stroke-width="1.3"/>
<line x1="441.20" y1="273.50" x2="446.00" y2="273.50" stroke="#000" stroke-width="1.3"/>
<rect x="449.30" y="304.10" width="7.50" height="90.00" fill="#000" stroke="none" stroke-width="1"/>
<line x1="453.05" y1="293.90" x2="453.05" y2="304.10" stroke="#000" stroke-width="1.3"/>
<line x1="450.65" y1="293.90" x2="455.45" y2="293.90" stroke="#000" stroke-width="1.3"/>
<rect x="459.70" y="287.70" width="5.90" height="106.40" fill="#fff" stroke="#000" stroke-width="1.4"/>
<line x1="462.65" y1="280.50" x2="462.65" y2="294.90" stroke="#000" stroke-width="1.3"/>
<line x1="460.25" y1="280.50" x2="465.05" y2="280.50" stroke="#000" stroke-width="1.3"/>
<line x1="459.70" y1="294.90" x2="465.60" y2="294.90" stroke="#000" stroke-width="1.2"/>
<rect x="469.20" y="324.70" width="5.40" height="69.40" fill="#fff" stroke="#000" stroke-width="1.4"/>
<line x1="471.90" y1="309.50" x2="471.90" y2="339.90" stroke="#000" stroke-width="1.3"/>
<line x1="469.50" y1="309.50" x2="474.30" y2="309.50" stroke="#000" stroke-width="1.3"/>
<line x1="469.20" y1="339.90" x2="474.60" y2="339.90" stroke="#000" stroke-width="1.2"/>
<rect x="478.70" y="316.90" width="5.80" height="77.20" fill="#d4d4d4" stroke="#000" stroke-width="1.4"/>
<rect x="479.40" y="317.60" width="4.40" height="10.00" fill="#fff" stroke="none" stroke-width="1"/>
<line x1="481.60" y1="306.20" x2="481.60" y2="327.60" stroke="#000" stroke-width="1.3"/>
<line x1="479.20" y1="306.20" x2="484.00" y2="306.20" stroke="#000" stroke-width="1.3"/>
<line x1="478.70" y1="327.60" x2="484.50" y2="327.60" stroke="#000" stroke-width="1.2"/>
<rect x="488.60" y="346.70" width="5.20" height="47.40" fill="#d4d4d4" stroke="#000" stroke-width="1.4"/>
<rect x="489.30" y="347.40" width="3.80" height="9.50" fill="#fff" stroke="none" stroke-width="1"/>
<line x1="491.20" y1="336.50" x2="491.20" y2="356.90" stroke="#000" stroke-width="1.3"/>
<line x1="488.80" y1="336.50" x2="493.60" y2="336.50" stroke="#000" stroke-width="1.3"/>
<line x1="488.60" y1="356.90" x2="493.80" y2="356.90" stroke="#000" stroke-width="1.2"/>
<rect x="497.80" y="334.30" width="5.60" height="59.80" fill="#d4d4d4" stroke="#000" stroke-width="1.4"/>
<rect x="498.50" y="335.00" width="4.20" height="11.30" fill="#fff" stroke="none" stroke-width="1"/>
<line x1="500.60" y1="322.30" x2="500.60" y2="346.30" stroke="#000" stroke-width="1.3"/>
<line x1="498.20" y1="322.30" x2="503.00" y2="322.30" stroke="#000" stroke-width="1.3"/>
<line x1="497.80" y1="346.30" x2="503.40" y2="346.30" stroke="#000" stroke-width="1.2"/>
<rect x="507.30" y="353.40" width="5.50" height="40.70" fill="#d4d4d4" stroke="#000" stroke-width="1.4"/>
<rect x="508.00" y="354.10" width="4.10" height="10.00" fill="#fff" stroke="none" stroke-width="1"/>
<line x1="510.05" y1="342.70" x2="510.05" y2="364.10" stroke="#000" stroke-width="1.3"/>
<line x1="507.65" y1="342.70" x2="512.45" y2="342.70" stroke="#000" stroke-width="1.3"/>
<line x1="507.30" y1="364.10" x2="512.80" y2="364.10" stroke="#000" stroke-width="1.2"/>
<line x1="314.25" y1="394.10" x2="314.25" y2="397.40" stroke="#000" stroke-width="0.9"/>
<line x1="324.00" y1="394.10" x2="324.00" y2="397.40" stroke="#000" stroke-width="0.9"/>
<line x1="333.15" y1="394.10" x2="333.15" y2="397.40" stroke="#000" stroke-width="0.9"/>
<line x1="358.75" y1="394.10" x2="358.75" y2="397.40" stroke="#000" stroke-width="0.9"/>
<line x1="368.38" y1="394.10" x2="368.38" y2="397.40" stroke="#000" stroke-width="0.9"/>
<line x1="378.25" y1="394.10" x2="378.25" y2="397.40" stroke="#000" stroke-width="0.9"/>
<line x1="401.50" y1="394.10" x2="401.50" y2="397.40" stroke="#000" stroke-width="0.9"/>
<line x1="411.00" y1="394.10" x2="411.00" y2="397.40" stroke="#000" stroke-width="0.9"/>
<line x1="420.15" y1="394.10" x2="420.15" y2="397.40" stroke="#000" stroke-width="0.9"/>
<line x1="443.60" y1="394.10" x2="443.60" y2="397.40" stroke="#000" stroke-width="0.9"/>
<line x1="453.05" y1="394.10" x2="453.05" y2="397.40" stroke="#000" stroke-width="0.9"/>
<line x1="462.65" y1="394.10" x2="462.65" y2="397.40" stroke="#000" stroke-width="0.9"/>
<line x1="471.90" y1="394.10" x2="471.90" y2="397.40" stroke="#000" stroke-width="0.9"/>
<line x1="481.60" y1="394.10" x2="481.60" y2="397.40" stroke="#000" stroke-width="0.9"/>
<line x1="491.20" y1="394.10" x2="491.20" y2="397.40" stroke="#000" stroke-width="0.9"/>
<line x1="500.60" y1="394.10" x2="500.60" y2="397.40" stroke="#000" stroke-width="0.9"/>
<line x1="510.05" y1="394.10" x2="510.05" y2="397.40" stroke="#000" stroke-width="0.9"/>
<rect x="307.00" y="245.30" width="8.50" height="6.30" fill="#000" stroke="none" stroke-width="1"/>
<text x="317.50" y="250.20" font-size="6.1" font-weight="normal" fill="#000" stroke-width="0.0" textLength="49.50" lengthAdjust="spacingAndGlyphs">Forod 2 µM + dGuo</text>
<rect x="307.50" y="257.20" width="7.80" height="6.10" fill="#fff" stroke="#000" stroke-width="1.3"/>
<text x="317.50" y="262.00" font-size="6.1" font-weight="normal" fill="#000" stroke-width="0.0" textLength="32.50" lengthAdjust="spacingAndGlyphs">Mafosfamide</text>
<rect x="355.50" y="257.20" width="8.00" height="6.10" fill="#b8b8b8" stroke="#000" stroke-width="1.3"/>
<text x="365.50" y="262.00" font-size="6.1" font-weight="normal" fill="#000" stroke-width="0.0" textLength="54.00" lengthAdjust="spacingAndGlyphs">Mafosfamide + Forod.</text>
<text x="329.50" y="329.00" font-size="7.6" font-weight="normal" fill="#000" stroke-width="0.08" textLength="20.00" lengthAdjust="spacingAndGlyphs">CI=0.9</text>
<text x="374.30" y="348.00" font-size="7.6" font-weight="normal" fill="#000" stroke-width="0.08" textLength="19.50" lengthAdjust="spacingAndGlyphs">CI=0.8</text>
<text x="417.50" y="339.30" font-size="7.6" font-weight="normal" fill="#000" stroke-width="0.08" textLength="19.20" lengthAdjust="spacingAndGlyphs">CI=0.7</text>
<text x="468.50" y="253.60" font-size="9" font-weight="bold" fill="#000" stroke-width="0" textLength="7.50" lengthAdjust="spacingAndGlyphs">**</text>
<line x1="448.60" y1="254.70" x2="499.50" y2="254.70" stroke="#555" stroke-width="0.9"/>
<line x1="443.60" y1="256.50" x2="454.80" y2="256.50" stroke="#555" stroke-width="0.9"/>
<line x1="443.60" y1="256.50" x2="443.60" y2="258.00" stroke="#555" stroke-width="0.9"/>
<line x1="454.80" y1="256.50" x2="454.80" y2="258.00" stroke="#555" stroke-width="0.9"/>
<line x1="462.80" y1="256.50" x2="473.50" y2="256.50" stroke="#555" stroke-width="0.9"/>
<line x1="462.80" y1="256.50" x2="462.80" y2="258.00" stroke="#555" stroke-width="0.9"/>
<line x1="473.50" y1="256.50" x2="473.50" y2="258.00" stroke="#555" stroke-width="0.9"/>
<line x1="482.20" y1="256.50" x2="513.50" y2="256.50" stroke="#555" stroke-width="0.9"/>
<line x1="482.20" y1="256.50" x2="482.20" y2="258.00" stroke="#555" stroke-width="0.9"/>
<line x1="513.50" y1="256.50" x2="513.50" y2="258.00" stroke="#555" stroke-width="0.9"/>
<line x1="448.60" y1="254.70" x2="448.60" y2="256.50" stroke="#555" stroke-width="0.9"/>
<line x1="468.20" y1="254.70" x2="468.20" y2="256.50" stroke="#555" stroke-width="0.9"/>
<line x1="499.50" y1="254.70" x2="499.50" y2="256.50" stroke="#555" stroke-width="0.9"/>
<text x="264.00" y="405.50" font-size="7.0" font-weight="normal" fill="#000" stroke-width="0.0" textLength="36.30" lengthAdjust="spacingAndGlyphs">dGuo (µM):</text>
<text x="252.70" y="416.00" font-size="7.2" font-weight="normal" fill="#000" stroke-width="0.08" textLength="48.80" lengthAdjust="spacingAndGlyphs">Mafosfamide 2</text>
<text x="264.00" y="424.40" font-size="6.3" font-weight="normal" fill="#000" stroke-width="0.0" textLength="23.60" lengthAdjust="spacingAndGlyphs">(µg/mL)</text>
<text x="314.25" y="406.70" font-size="7.3" fill="#000" stroke-width="0.08" text-anchor="middle">20</text>
<text x="324.00" y="406.70" font-size="7.3" fill="#000" stroke-width="0.08" text-anchor="middle">-</text>
<text x="333.15" y="406.70" font-size="7.3" fill="#000" stroke-width="0.08" text-anchor="middle">20</text>
<text x="314.25" y="415.70" font-size="7.3" fill="#000" stroke-width="0.08" text-anchor="middle">-</text>
<text x="324.00" y="415.70" font-size="7.3" fill="#000" stroke-width="0.08" text-anchor="middle">+</text>
<text x="333.15" y="415.70" font-size="7.3" fill="#000" stroke-width="0.08" text-anchor="middle">+</text>
<text x="358.75" y="406.70" font-size="7.3" fill="#000" stroke-width="0.08" text-anchor="middle">20</text>
<text x="368.40" y="406.70" font-size="7.3" fill="#000" stroke-width="0.08" text-anchor="middle">-</text>
<text x="378.25" y="406.70" font-size="7.3" fill="#000" stroke-width="0.08" text-anchor="middle">20</text>
<text x="358.75" y="415.70" font-size="7.3" fill="#000" stroke-width="0.08" text-anchor="middle">-</text>
<text x="368.40" y="415.70" font-size="7.3" fill="#000" stroke-width="0.08" text-anchor="middle">+</text>
<text x="378.25" y="415.70" font-size="7.3" fill="#000" stroke-width="0.08" text-anchor="middle">+</text>
<text x="401.50" y="406.70" font-size="7.3" fill="#000" stroke-width="0.08" text-anchor="middle">20</text>
<text x="411.00" y="406.70" font-size="7.3" fill="#000" stroke-width="0.08" text-anchor="middle">-</text>
<text x="420.15" y="406.70" font-size="7.3" fill="#000" stroke-width="0.08" text-anchor="middle">20</text>
<text x="401.50" y="415.70" font-size="7.3" fill="#000" stroke-width="0.08" text-anchor="middle">-</text>
<text x="411.00" y="415.70" font-size="7.3" fill="#000" stroke-width="0.08" text-anchor="middle">+</text>
<text x="420.15" y="415.70" font-size="7.3" fill="#000" stroke-width="0.08" text-anchor="middle">+</text>
<line x1="308.20" y1="419.30" x2="338.10" y2="419.30" stroke="#000" stroke-width="1.2"/>
<text x="307.20" y="430.20" font-size="8.6" font-weight="normal" fill="#000" stroke-width="0.12" textLength="30.90" lengthAdjust="spacingAndGlyphs">CLL #31</text>
<line x1="353.30" y1="419.30" x2="382.40" y2="419.30" stroke="#000" stroke-width="1.2"/>
<text x="352.30" y="430.20" font-size="8.6" font-weight="normal" fill="#000" stroke-width="0.12" textLength="30.10" lengthAdjust="spacingAndGlyphs">CLL #15</text>
<line x1="396.40" y1="419.30" x2="425.60" y2="419.30" stroke="#000" stroke-width="1.2"/>
<text x="395.40" y="430.20" font-size="8.6" font-weight="normal" fill="#000" stroke-width="0.12" textLength="30.20" lengthAdjust="spacingAndGlyphs">CLL #30</text>
<text x="443.60" y="406.70" font-size="7.3" fill="#000" stroke-width="0.08" text-anchor="middle">10</text>
<text x="453.05" y="406.70" font-size="7.3" fill="#000" stroke-width="0.08" text-anchor="middle">20</text>
<text x="462.65" y="406.70" font-size="7.3" fill="#000" stroke-width="0.08" text-anchor="middle">-</text>
<text x="471.90" y="406.70" font-size="7.3" fill="#000" stroke-width="0.08" text-anchor="middle">-</text>
<text x="481.60" y="406.70" font-size="7.3" fill="#000" stroke-width="0.08" text-anchor="middle">10</text>
<text x="491.20" y="406.70" font-size="7.3" fill="#000" stroke-width="0.08" text-anchor="middle">10</text>
<text x="500.60" y="406.70" font-size="7.3" fill="#000" stroke-width="0.08" text-anchor="middle">20</text>
<text x="510.05" y="406.70" font-size="7.3" fill="#000" stroke-width="0.08" text-anchor="middle">20</text>
<text x="462.65" y="415.70" font-size="7.3" fill="#000" stroke-width="0.08" text-anchor="middle">1</text>
<text x="471.90" y="415.70" font-size="7.3" fill="#000" stroke-width="0.08" text-anchor="middle">2</text>
<text x="481.60" y="415.70" font-size="7.3" fill="#000" stroke-width="0.08" text-anchor="middle">1</text>
<text x="491.20" y="415.70" font-size="7.3" fill="#000" stroke-width="0.08" text-anchor="middle">2</text>
<text x="500.60" y="415.70" font-size="7.3" fill="#000" stroke-width="0.08" text-anchor="middle">1</text>
<text x="510.05" y="415.70" font-size="7.3" fill="#000" stroke-width="0.08" text-anchor="middle">2</text>
<line x1="456.50" y1="418.20" x2="519.00" y2="418.20" stroke="#000" stroke-width="1.2"/>
<text x="452.20" y="427.30" font-size="7.6" font-weight="normal" fill="#000" stroke-width="0.08" textLength="43.60" lengthAdjust="spacingAndGlyphs">Mafosfamide</text>
<text x="497.00" y="427.30" font-size="6.3" font-weight="normal" fill="#000" stroke-width="0.0" textLength="22.20" lengthAdjust="spacingAndGlyphs">(µg/mL)</text>
<line x1="442.00" y1="430.90" x2="519.00" y2="430.90" stroke="#000" stroke-width="1.2"/>
<text x="447.60" y="440.20" font-size="8.6" font-weight="normal" fill="#000" stroke-width="0.12" textLength="41.90" lengthAdjust="spacingAndGlyphs">MEAN CLL</text>
<text x="491.70" y="439.90" font-size="6.3" font-weight="normal" fill="#000" stroke-width="0.0" textLength="19.40" lengthAdjust="spacingAndGlyphs">(n=10)</text>
</svg>
</body></html>
